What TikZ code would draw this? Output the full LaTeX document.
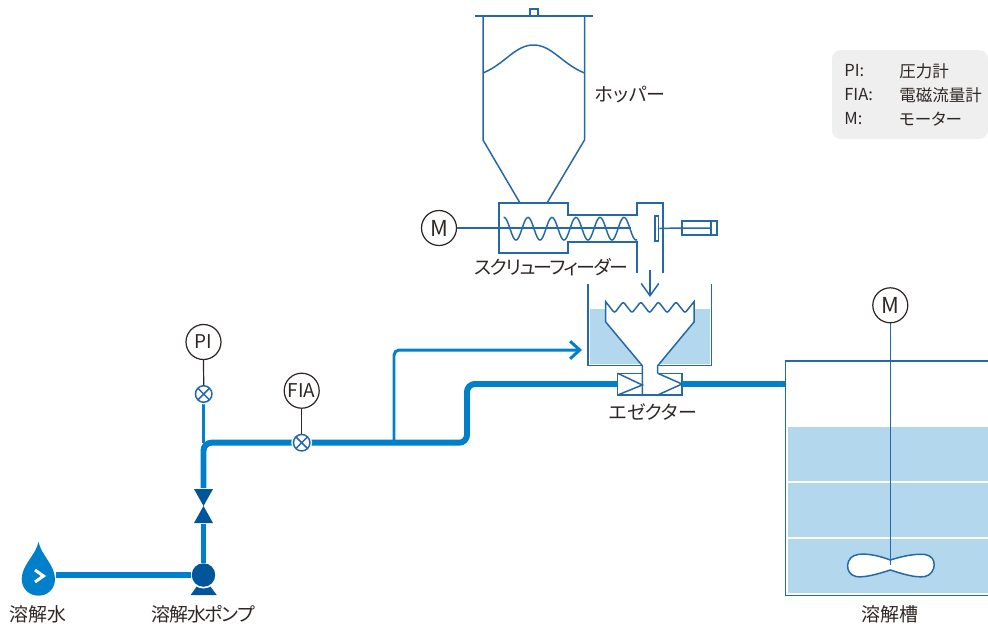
\documentclass[tikz,border=0pt]{standalone}
\usepackage{fontspec}
\setmainfont[RawFeature=+palt]{Noto Sans CJK JP}
\usetikzlibrary{arrows.meta}

\definecolor{pipeblue}{HTML}{0080CB}
\definecolor{darkblue}{HTML}{00559B}
\definecolor{lineblue}{HTML}{2468A8}
\definecolor{waterblue}{HTML}{B3D8EE}
\definecolor{inkgray}{HTML}{2F2725}
\definecolor{legendgray}{HTML}{EFEFEF}

\tikzset{
	pipe/.style={draw=pipeblue,line width=3.4pt,rounded corners=4.5pt},
	thinpipe/.style={draw=pipeblue,line width=1.7pt,rounded corners=3pt},
	outline/.style={draw=lineblue,line width=0.85pt},
	instr/.style={shape=circle,draw=inkgray,fill=white,line width=0.7pt,minimum size=0.7cm,inner sep=0pt,text=inkgray,font=\fontsize{10.8pt}{12pt}\selectfont},
	sensor/.style={shape=circle,draw=lineblue,fill=white,line width=0.85pt,minimum size=0.33cm,inner sep=0pt,
		preaction={draw=white,line width=2.4pt},
		path picture={\draw[lineblue,line width=0.85pt] (path picture bounding box.north west) -- (path picture bounding box.south east) (path picture bounding box.south west) -- (path picture bounding box.north east);}},
	lbl/.style={text=inkgray,inner sep=0pt,font=\fontsize{10.8pt}{12pt}\selectfont},
	legend/.style={text=inkgray,inner sep=0pt,anchor=west,font=\fontsize{9.4pt}{11pt}\selectfont}
}

\begin{document}
\begin{tikzpicture}[x=0.02cm,y=-0.02cm]
			\useasboundingbox (0,0) rectangle (988,623);
			
			% legend
			\fill[legendgray,rounded corners=5pt] (832,50) rectangle (988,139);
			\node[legend] (lpi) at (844,71) {PI:};
			\node[legend] (lfia) at (844,95) {FIA:};
			\node[legend] (lm) at (844,119) {M:};
			\node[legend] (lpit) at (899,71) {圧力計};
			\node[legend] (lfiat) at (899,95) {電磁流量計};
			\node[legend] (lmt) at (899,119) {モーター};
			
			% hopper
			\draw[outline] (475,16) -- (593,16);
			\draw[outline] (530,16) rectangle (538,9);
			\draw[outline] (483,16) -- (483,140) -- (520,203);
			\draw[outline] (584.5,16) -- (584.5,140) -- (547,203);
			\draw[outline] (483,73) .. controls (505,64) and (515,45) .. (533.5,45) .. controls (552,45) and (562,64) .. (584.5,73);
			\node[lbl,anchor=west] (hopperlabel) at (595,95) {ホッパー};
			
			% screw feeder
			\draw[outline] (637,273) -- (637,242) -- (568,242) -- (568,253) -- (499,253) -- (499,203) -- (568,203) -- (568,215) -- (637,215) -- (637,203) -- (663,203) -- (663,273);
			\draw[lineblue,line width=0.85pt] plot[domain=503.5:637,samples=140,smooth] (\x,{228.7-11.3*cos((\x-504)*15)});
			\node[instr,font=\fontsize{12.5pt}{14pt}\selectfont] (m1) at (439,228) {M};
			\coordinate (shaftend) at (631,228);
			\draw[outline] (m1) -- (shaftend);
			\node[draw=lineblue,fill=white,line width=0.85pt,minimum width=0.07cm,minimum height=0.5cm,inner sep=0pt] (plate) at (656.8,228.5) {};
			\node[draw=lineblue,fill=white,line width=0.85pt,minimum width=0.7cm,minimum height=0.28cm,inner sep=0pt] (cylinder) at (699.5,228) {};
			\draw[outline] (plate) -- (cylinder.west) -- (711,228);
			\draw[outline] (711,221) -- (711,235);
			\node[lbl] (feederlabel) at (551.5,267) {\addfontfeature{LetterSpace=-8.5}スクリューフィーダー};
			\coordinate (dropstart) at (650,270);
			\coordinate (dropend) at (650,297);
			\draw[outline,-{Straight Barb[length=7pt,width=10pt]}] (dropstart) -- (dropend);
			
			% ejector tank
			\fill[waterblue] (590,309) rectangle (710,364);
			\fill[white] (605.7,301.7) -- (605.7,322) -- (642.3,365) -- (642.3,395) -- (657.7,395) -- (657.7,365) -- (694,322) -- (694,301.7) -- cycle;
			\draw[outline] (605.7,322) -- (605.7,301.7) [rounded corners=1.2pt] -- (614.5,313) -- (623.2,301.7) -- (632,313) -- (640.8,301.7) -- (649.6,313) -- (658.4,301.7) -- (667.2,313) -- (676,301.7) -- (685,313) [sharp corners] -- (694,301.7) -- (694,322) -- (657.7,365.7) -- (657.7,373.3);
			\draw[outline] (605.7,322) -- (642.3,365.7) -- (642.3,395);
			\draw[outline] (588,284) -- (588,365.7) -- (642.3,365.7);
			\draw[outline] (711.7,284) -- (711.7,365.7) -- (657.7,365.7);
			\draw[outline] (642.3,373.3) -- (617.7,373.3) -- (617.7,395) -- (682,395) -- (682,373.3) -- (657.7,373.3);
			\draw[outline] (617.7,373.3) -- (642.3,385) -- (617.7,395);
			\draw[outline] (657.7,373.3) -- (682,384) -- (657.7,395);
			\node[lbl] (ejectorlabel) at (653,412) {エゼクター};
			
			% mixing tank
			\fill[waterblue] (788,426.7) rectangle (988,592.7);
			\draw[white,line width=1.1pt] (788,481.7) -- (988,481.7) (788,537.7) -- (988,537.7);
			\draw[outline] (988,361) -- (785.5,361) -- (785.5,595.7) -- (988,595.7);
			\node[instr,font=\fontsize{12.5pt}{14pt}\selectfont] (m2) at (890.3,305.3) {M};
			\coordinate (impeller) at (890.3,565);
			\filldraw[outline,fill=white] (890.3,560) .. controls (903,556) and (915,553.5) .. (925,554.5) .. controls (938,556) and (936.5,574) .. (925,576.5) .. controls (915,578) and (903,574) .. (890.3,570) .. controls (878,574) and (864,578) .. (856,576.5) .. controls (844,574) and (845,556) .. (858,554.5) .. controls (867,553) and (880,556) .. cycle;
			\draw[outline] (m2) -- (impeller);
			\node[lbl] (tanklabel) at (890,614) {溶解槽};
			
			% pipes
			\coordinate (dropout) at (56,575);
			\coordinate (valvelow) at (203.5,524);
			\coordinate (valvehigh) at (203.5,488);
			\coordinate (corner1) at (203.5,442.7);
			\coordinate (corner2) at (467,442.7);
			\coordinate (corner3) at (467,384);
			\coordinate (branch) at (394,442.7);
			\coordinate (branchtop) at (394,350);
			\coordinate (inlet) at (582,350);
			\coordinate (ejectorin) at (617,384);
			\coordinate (ejectorout) at (682,384);
			\coordinate (tankin) at (785,384);
			
			\draw[pipe] (valvehigh) -- (corner1) -- (corner2) -- (corner3) -- (ejectorin);
			\draw[pipe] (ejectorout) -- (tankin);
			\draw[thinpipe,-{Straight Barb[length=5.5pt,width=10pt]}] (branch) -- (branchtop) -- (inlet);
			\draw[thinpipe] (corner1) -- (203.5,404);
			
			% instruments
			\node[instr] (pi) at (203.5,342) {PI};
			\node[sensor] (s1) at (203.7,394) {};
			\draw[inkgray,line width=0.7pt] (pi) -- (s1);
			\node[instr] (fia) at (301.7,390.7) {FIA};
			\node[sensor] (s2) at (301.7,442.7) {};
			\draw[inkgray,line width=0.7pt] (fia) -- (s2);
			
			% pump, valve, source
			\fill[darkblue] (190.7,595) -- (197,586) -- (210,586) -- (216.7,595) -- cycle;
			\node[shape=circle,fill=darkblue,minimum size=0.47cm,inner sep=0pt,preaction={draw=white,line width=2pt}] (pump) at (203.5,575) {};
			\draw[pipe] (dropout) -- (pump);
			\draw[pipe] (pump) -- (valvelow);
			\fill[darkblue] (194,489) -- (213,489) -- (203.5,506) -- cycle;
			\fill[darkblue] (194,523) -- (213,523) -- (203.5,506) -- cycle;
			\fill[pipeblue] (38.5,541.7) .. controls (36,555) and (21.7,565) .. (21.7,579) .. controls (21.7,588.5) and (29,595.7) .. (38.5,595.7) .. controls (48,595.7) and (55,588.5) .. (55,579) .. controls (55,565) and (41,555) .. cycle;
			\draw[white,line width=1.7pt] (35,570) -- (43.5,576) -- (35,582);
			\node[lbl] (sourcelabel) at (38,614) {溶解水};
			\node[lbl] (pumplabel) at (203,614) {\addfontfeature{LetterSpace=-6}溶解水ポンプ};
		\end{tikzpicture}
\end{document}
